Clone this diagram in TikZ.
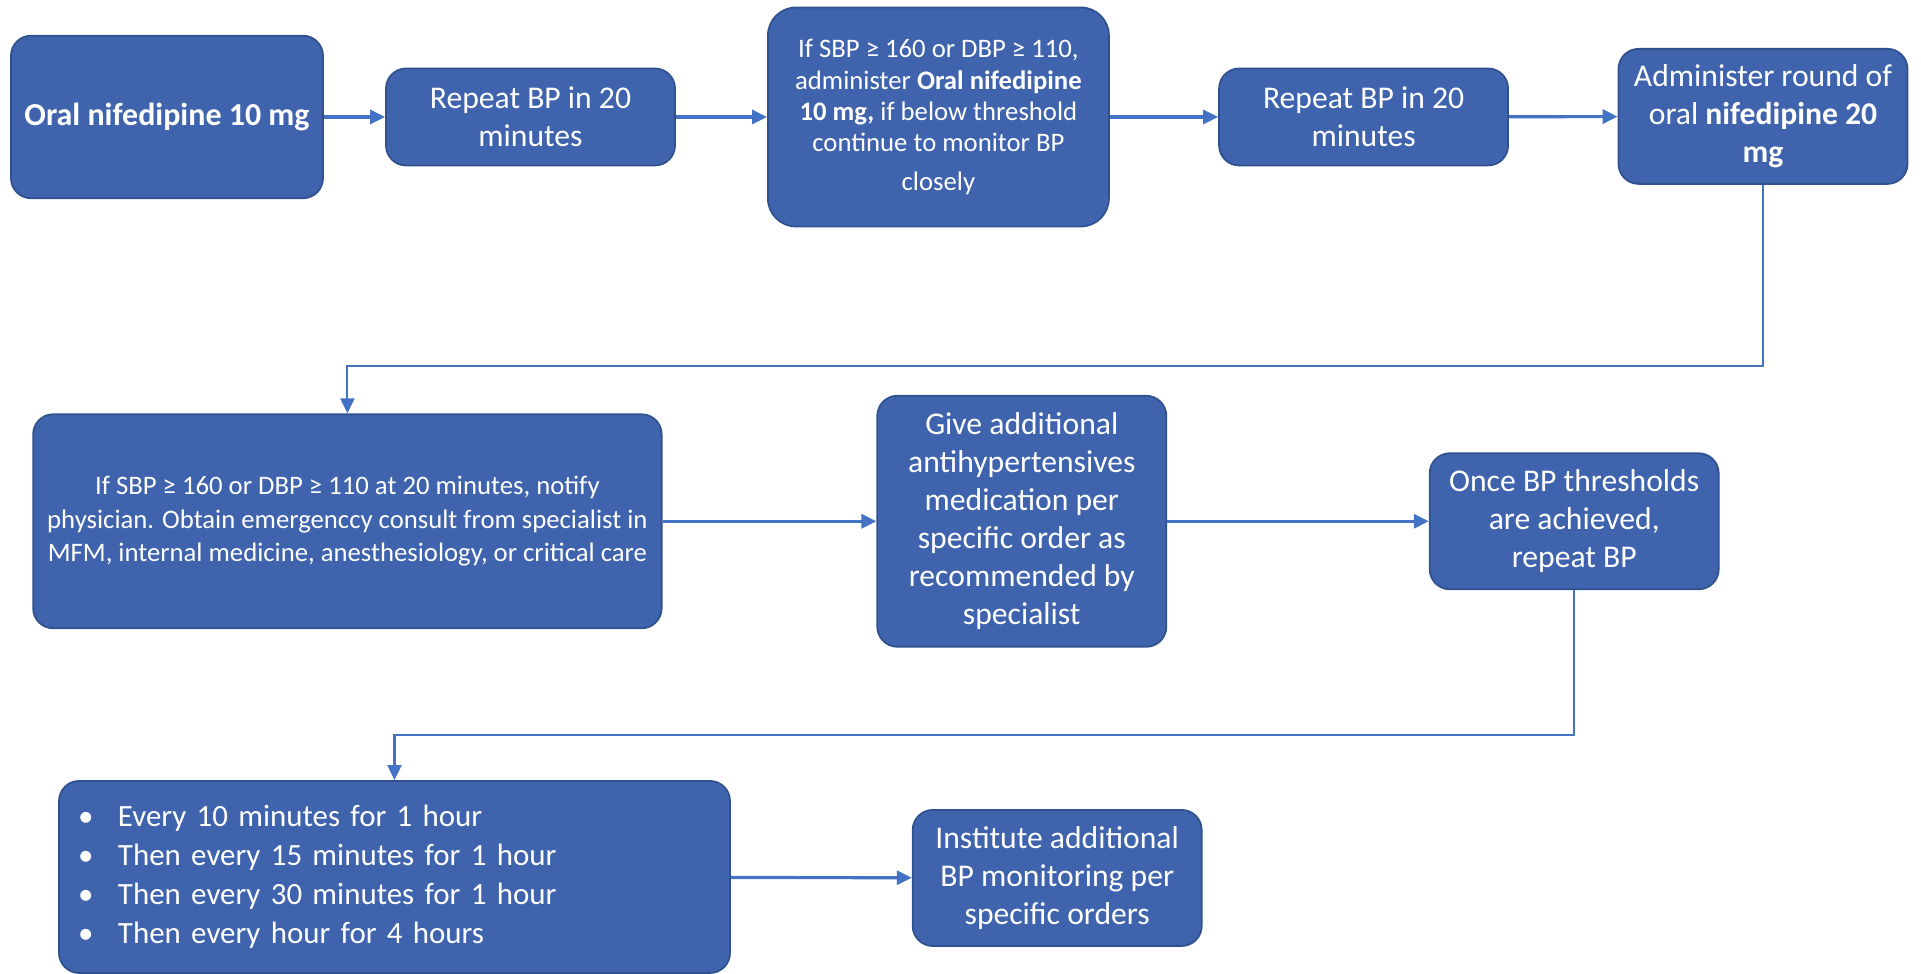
\documentclass[tikz,border=0pt]{standalone}
\usepackage{fontspec}
\setmainfont{Carlito}
\usetikzlibrary{arrows.meta}
\definecolor{boxblue}{RGB}{63,100,173}
\definecolor{boxline}{RGB}{47,82,143}
\definecolor{arrowblue}{RGB}{68,114,196}

\begin{document}
\begin{tikzpicture}[thick,
	main/.style={rectangle,rounded corners=0.2cm,fill=boxblue,draw=boxline,line width=0.5pt,text=white,align=center,inner sep=1pt,font=\fontsize{9}{10.8}\selectfont},
	small/.style={font=\fontsize{7.6}{8.9}\selectfont},
	link/.style={draw=arrowblue,line width=0.9pt,-{Triangle[length=0.15cm,width=0.14cm]}},
	elbow/.style={link,line width=0.6pt}]
				\useasboundingbox (0,0) rectangle (19.21,9.74);
				% top row
				\node[main,font=\fontsize{9.1}{10.8}\selectfont,minimum width=3.12cm,minimum height=1.625cm] (A) at (1.67,8.57) {\textbf{Oral nifedipine 10 mg}};
				\node[main,minimum width=2.89cm,minimum height=0.97cm] (B) at (5.305,8.57) {Repeat BP in 20\\ minutes};
				\node[main,small,minimum width=3.41cm,minimum height=2.19cm,rounded corners=0.28cm] (C) at (9.384,8.57) {If SBP ≥ 160 or DBP ≥ 110,\\ administer \textbf{Oral nifedipine}\\ \textbf{10 mg,} if below threshold\\ continue to monitor BP\\[0.07cm] closely};
				\node[main,minimum width=2.89cm,minimum height=0.97cm] (D) at (13.636,8.57) {Repeat BP in 20\\ minutes};
				\node[main,minimum width=2.89cm,minimum height=1.35cm] (E) at (17.63,8.576) {Administer round of\\ oral \textbf{nifedipine 20}\\ \textbf{mg}};
				% middle row
				\node[main,font=\fontsize{7.6}{9.6}\selectfont,minimum width=6.285cm,minimum height=2.14cm] (F) at (3.474,4.527) {If SBP ≥ 160 or DBP ≥ 110 at 20 minutes, notify\\ physician. Obtain emergenccy consult from specialist in\\ MFM, internal medicine, anesthesiology, or critical care};
				\node[main,minimum width=2.89cm,minimum height=2.51cm] (G) at (10.218,4.527) {Give additional\\ antihypertensives\\ medication per\\ specific order as\\ recommended by\\ specialist};
				\node[main,minimum width=2.89cm,minimum height=1.36cm] (H) at (15.742,4.527) {Once BP thresholds\\ are achieved,\\ repeat BP};
				% bottom row
				\node[main,font=\fontsize{8.8}{11.1}\selectfont,minimum width=6.71cm,minimum height=1.92cm,text width=6.33cm,align=left] (I) at (3.945,0.97) {\makebox[0.4cm][l]{\textbullet}Every 10 minutes for 1 hour\\ \makebox[0.4cm][l]{\textbullet}Then every 15 minutes for 1 hour\\ \makebox[0.4cm][l]{\textbullet}Then every 30 minutes for 1 hour\\ \makebox[0.4cm][l]{\textbullet}Then every hour for 4 hours\\[0.06cm]};
				\node[main,minimum width=2.89cm,minimum height=1.36cm] (J) at (10.572,0.96) {Institute additional\\ BP monitoring per\\ specific orders};
				\coordinate (turnA) at (0,6.08);
				\coordinate (turnB) at (0,2.39);
				\path
				(A) edge[link] (B)
				(B) edge[link] (C)
				(C) edge[link] (D)
				(D) edge[link] (E)
				(F) edge[link] (G)
				(G) edge[link] (H)
				(I) edge[link] (J);
				\draw[elbow] (E.south) |- (turnA -| F.north) -- (F.north);
				\draw[elbow] (H.south) |- (turnB -| I.north) -- (I.north);
			\end{tikzpicture}
\end{document}
